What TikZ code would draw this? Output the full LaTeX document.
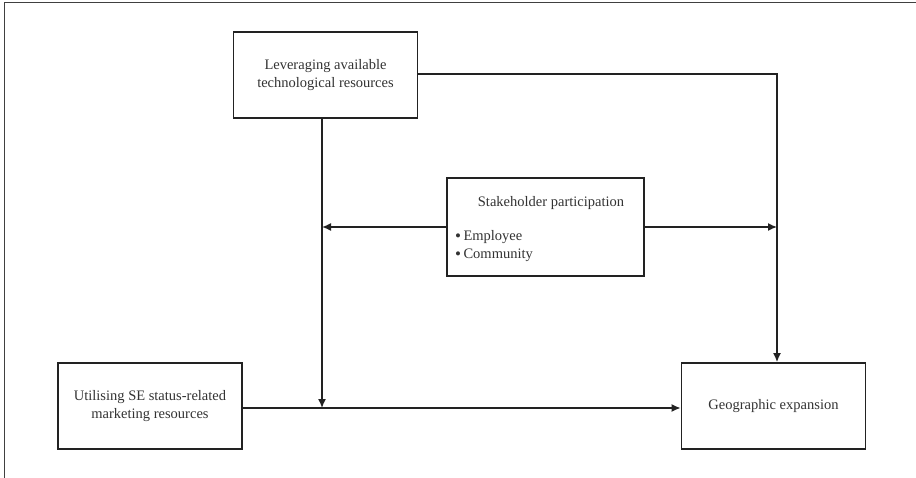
\documentclass[tikz,border=0pt]{standalone}
\usepackage{fontspec}
\setmainfont{Liberation Serif}
\usetikzlibrary{arrows.meta}
\definecolor{ink}{HTML}{222222}
\definecolor{txtc}{HTML}{333333}
\newcommand{\bulletdot}{{\fontsize{17pt}{17pt}\selectfont\raisebox{-0.8pt}{•}}\,}
\tikzset{
  box/.style={draw=ink, line width=1.7pt, fill=white, minimum width=184pt, minimum height=86pt, inner sep=0pt},
  txt/.style={text=txtc, font=\fontsize{14.5pt}{17.5pt}\selectfont, align=center, inner sep=0pt},
  conn/.style={draw=ink, line width=1.5pt, -{Latex[length=9pt,width=8pt]}},
  plain/.style={draw=ink, line width=1.5pt}
}
\begin{document}
\begin{tikzpicture}[x=1pt,y=-1pt]
\useasboundingbox (0,0) rectangle (916,478);
\draw[line width=1pt, draw=black!75] (4,478) -- (4,3) -- (916,3);

\node[box] (T) at (325.5,75) {};
\node[txt] at (T.center) {Leveraging available\\technological resources};
\node[box, minimum width=197pt, minimum height=98pt] (S) at (545.5,227) {};
\node[txt] (St) at (551,203) {Stakeholder participation};
\node[txt, anchor=west, align=left] (Sb) at (455,246) {\bulletdot Employee\\\bulletdot Community};
\node[box] (U) at (150,406) {};
\node[txt] at (U.center) {Utilising SE status-related\\marketing resources};
\node[box] (G) at (773.5,406) {};
\node[txt] at (G.center) {Geographic expansion};

\coordinate (m1) at (322,227);
\coordinate (m2) at (322,408);
\coordinate (r1) at (777,74);
\coordinate (r2) at (777,227);

\draw[plain] (T.south -| m1) -- (m1);
\draw[conn] (m1) -- (m2);
\draw[conn] (U.east |- m2) -- (G.west |- m2);
\draw[conn] (S.west |- m1) -- (m1);
\draw[conn] (S.east |- r2) -- (r2);
\draw[plain] (T.east |- r1) -- (r1) -- (r2);
\draw[conn] (r2) -- (G.north -| r2);
\end{tikzpicture}
\end{document}
